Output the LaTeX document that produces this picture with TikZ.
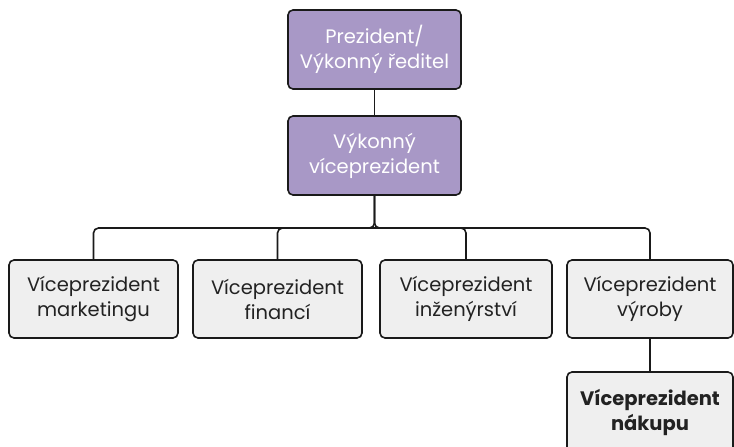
\documentclass[tikz,border=0pt]{standalone}
\usepackage{fontspec}
\setmainfont{Poppins}
\definecolor{purp}{HTML}{A898C6}
\definecolor{grayfill}{HTML}{EFEFEF}
\definecolor{ink}{HTML}{1A1A1A}
\definecolor{txt}{HTML}{222222}
\tikzset{
  box/.style={draw=ink, line width=1.6pt, rounded corners=5pt, align=center,
    inner sep=0pt, font=\fontsize{19.5}{25}\selectfont},
  topbox/.style={box, fill=purp, text=white, minimum width=173pt, minimum height=79pt},
  vpbox/.style={box, fill=grayfill, text=txt, minimum width=169pt, minimum height=78pt},
  conn/.style={draw=ink, line width=1.6pt, rounded corners=5pt},
}
\begin{document}
\begin{tikzpicture}[x=1pt,y=1pt]
\useasboundingbox (0,0) rectangle (734,-447);
\clip (0,0) rectangle (734,-447);
\node[topbox] (ceo) at (374.5,-49.5) {Prezident/\\Výkonný ředitel};
\node[topbox] (evp) at (374.5,-155.5) {Výkonný\\víceprezident};
\node[vpbox] (mkt) at (93.5,-299) {Víceprezident\\marketingu};
\node[vpbox] (fin) at (277.5,-299) {Víceprezident\\financí};
\node[vpbox, minimum width=172pt] (eng) at (466,-299) {Víceprezident\\inženýrství};
\node[vpbox, minimum width=166pt] (vyr) at (650,-299) {Víceprezident\\výroby};
\node[vpbox, minimum width=166pt, minimum height=80pt, font=\fontsize{19.5}{25}\selectfont\bfseries] (nak) at (650,-412) {Víceprezident\\nákupu};
\coordinate (bus) at (0,-228);
\draw[conn] (ceo.south) -- (evp.north);
\draw[conn] (evp.south) |- (fin.north |- bus);
\draw[conn] (evp.south) |- (eng.north |- bus);
\draw[conn] (mkt.north) |- (vyr.north |- bus) -- (vyr.north);
\draw[conn] (fin.north) |- (eng.north |- bus) -- (eng.north);
\draw[conn] (vyr.south) -- (nak.north);
\end{tikzpicture}
\end{document}
